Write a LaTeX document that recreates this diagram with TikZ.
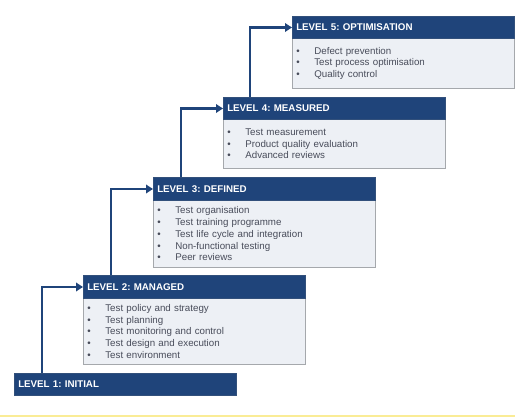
\documentclass[tikz,border=0pt]{standalone}
\usepackage{fontspec}
\setmainfont{Liberation Sans}
\usetikzlibrary{arrows.meta}
\frenchspacing
\definecolor{navy}{RGB}{31,68,122}
\definecolor{bodyfill}{RGB}{237,240,245}
\definecolor{bodytext}{RGB}{72,76,90}
\definecolor{bordergray}{RGB}{165,168,172}
\definecolor{paleyellow}{RGB}{250,236,150}
\newcommand{\itm}[1]{\makebox[18pt][l]{\textbullet}#1}
\begin{document}
\begin{tikzpicture}[x=1pt,y=-1pt,
  hdr/.style={fill=navy, draw=navy!80!gray, line width=0.5pt, text=white,
    font=\fontsize{9.75}{11.8}\selectfont\bfseries\frenchspacing, inner xsep=4pt, inner ysep=0pt,
    text width=214pt, align=left, minimum height=22.5pt, anchor=north west},
  bdy/.style={fill=bodyfill, draw=bordergray, line width=0.7pt, text=bodytext,
    font=\fontsize{9.75}{11.8}\selectfont, inner xsep=4pt, inner ysep=0pt,
    text width=214pt, align=left, anchor=north west},
  arr/.style={draw=navy, line width=2.8pt, -{Triangle[length=7pt,width=8.5pt]}}
]
\useasboundingbox (0,0) rectangle (515,417);
\draw[paleyellow, line width=1.2pt] (0,416) -- (515,416);

% Level 5
\node[bdy, minimum height=50pt] (b5) at (292,38) {\itm{Defect prevention}\\\itm{Test process optimisation}\\\itm{Quality control}};
\node[hdr] (h5) at (292,16) {LEVEL 5: OPTIMISATION};
% Level 4
\node[bdy, minimum height=49pt] (b4) at (223,119) {\itm{Test measurement}\\\itm{Product quality evaluation}\\\itm{Advanced reviews}};
\node[hdr] (h4) at (223,97) {LEVEL 4: MEASURED};
% Level 3
\node[bdy, minimum height=67pt] (b3) at (153,200) {\itm{Test organisation}\\\itm{Test training programme}\\\itm{Test life cycle and integration}\\\itm{Non-functional testing}\\\itm{Peer reviews}};
\node[hdr] (h3) at (153,177.5) {LEVEL 3: DEFINED};
% Level 2
\node[bdy, minimum height=66pt] (b2) at (83,298) {\itm{Test policy and strategy}\\\itm{Test planning}\\\itm{Test monitoring and control}\\\itm{Test design and execution}\\\itm{Test environment}};
\node[hdr] (h2) at (83,275.5) {LEVEL 2: MANAGED};
% Level 1
\node[hdr] (h1) at (14,373) {LEVEL 1: INITIAL};

\draw[arr] ([xshift=28pt]h1.north west) |- (h2.west);
\draw[arr] ([xshift=28pt]h2.north west) |- (h3.west);
\draw[arr] ([xshift=28pt]h3.north west) |- (h4.west);
\draw[arr] ([xshift=27pt]h4.north west) |- (h5.west);
\end{tikzpicture}
\end{document}
